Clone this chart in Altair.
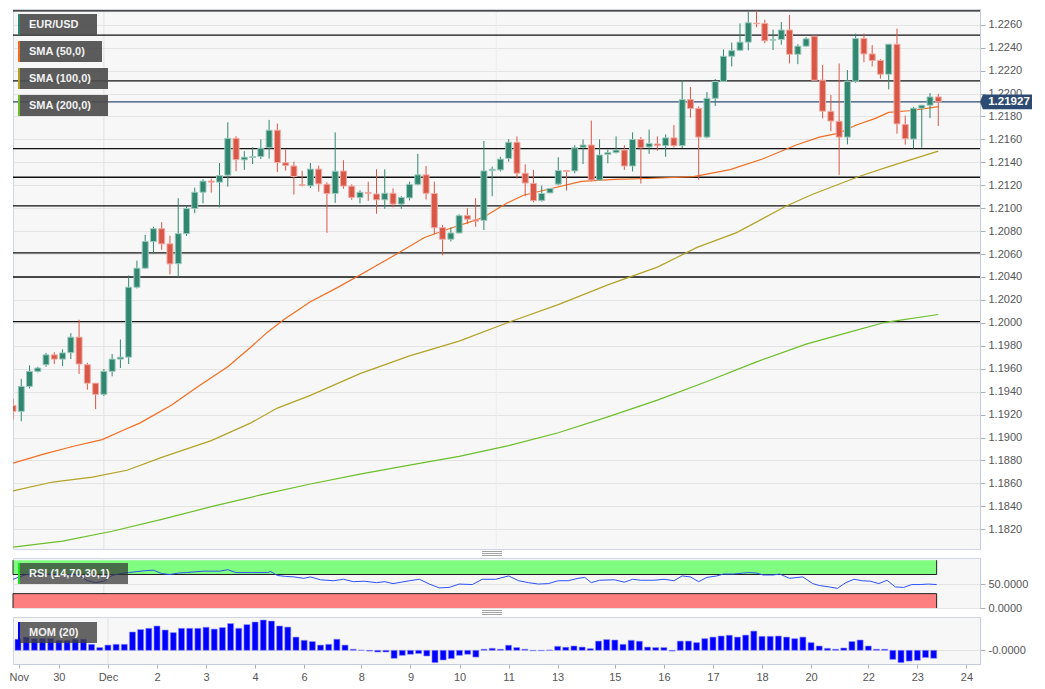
import altair as alt
import pandas as pd

# ---------------- data ----------------
o = [1.19280, 1.19228, 1.19446, 1.19577, 1.19635, 1.19721, 1.19684, 1.19740, 1.19875, 1.19635,
     1.19474, 1.19377, 1.19577, 1.19684, 1.19701, 1.20311, 1.20477, 1.20709, 1.20821, 1.20689,
     1.20516, 1.20778, 1.20997, 1.21139, 1.21236, 1.21227, 1.21288, 1.21609, 1.21422, 1.21442,
     1.21450, 1.21528, 1.21680, 1.21396, 1.21368, 1.21205, 1.21195, 1.21341, 1.21209, 1.21128,
     1.21324, 1.21192, 1.21092, 1.21136, 1.21124, 1.21073, 1.21130, 1.21036, 1.21090, 1.21208,
     1.21291, 1.21128, 1.20830, 1.20729, 1.20784, 1.20935, 1.20898, 1.20894, 1.21328, 1.21334,
     1.21434, 1.21575, 1.21305, 1.21216, 1.21068, 1.21133, 1.21210, 1.21328, 1.21325, 1.21531,
     1.21551, 1.21245, 1.21468, 1.21485, 1.21507, 1.21368, 1.21599, 1.21534, 1.21560, 1.21545,
     1.21613, 1.21545, 1.21947, 1.21870, 1.21620, 1.21958, 1.22104, 1.22325, 1.22377, 1.22448,
     1.22614, 1.22611, 1.22465, 1.22471, 1.22554, 1.22342, 1.22413, 1.22499, 1.22116, 1.21844,
     1.21758, 1.21620, 1.22107, 1.22480, 1.22345, 1.22288, 1.22168, 1.22430, 1.21729, 1.21603,
     1.21872, 1.21898, 1.21970]
h = [1.19336, 1.19512, 1.19629, 1.19617, 1.19738, 1.19744, 1.19769, 1.19910, 1.20027, 1.19652,
     1.19474, 1.19598, 1.19729, 1.19855, 1.20414, 1.20543, 1.20766, 1.20838, 1.20878, 1.20760,
     1.21087, 1.21024, 1.21179, 1.21251, 1.21257, 1.21394, 1.21749, 1.21627, 1.21497, 1.21531,
     1.21600, 1.21770, 1.21738, 1.21511, 1.21405, 1.21326, 1.21394, 1.21371, 1.21226, 1.21661,
     1.21418, 1.21208, 1.21156, 1.21231, 1.21339, 1.21339, 1.21173, 1.21105, 1.21231, 1.21474,
     1.21368, 1.21231, 1.20853, 1.20832, 1.20947, 1.20999, 1.21087, 1.21586, 1.21362, 1.21448,
     1.21603, 1.21626, 1.21382, 1.21334, 1.21197, 1.21176, 1.21444, 1.21334, 1.21549, 1.21599,
     1.21764, 1.21600, 1.21511, 1.21626, 1.21549, 1.21661, 1.21620, 1.21685, 1.21626, 1.21643,
     1.21725, 1.22116, 1.22057, 1.21888, 1.22013, 1.22127, 1.22385, 1.22445, 1.22611, 1.22714,
     1.22714, 1.22643, 1.22557, 1.22623, 1.22685, 1.22430, 1.22491, 1.22499, 1.22250, 1.21987,
     1.22262, 1.22205, 1.22523, 1.22523, 1.22422, 1.22299, 1.22430, 1.22566, 1.21807, 1.21884,
     1.21898, 1.22004, 1.21998]
l = [1.19156, 1.19142, 1.19428, 1.19568, 1.19617, 1.19641, 1.19623, 1.19684, 1.19555, 1.19417,
     1.19248, 1.19362, 1.19534, 1.19606, 1.19641, 1.20300, 1.20470, 1.20600, 1.20637, 1.20423,
     1.20397, 1.20758, 1.20956, 1.21042, 1.21136, 1.21007, 1.21188, 1.21323, 1.21334, 1.21385,
     1.21428, 1.21433, 1.21315, 1.21328, 1.21119, 1.21190, 1.21176, 1.21143, 1.20785, 1.21047,
     1.21169, 1.21073, 1.21042, 1.21064, 1.20952, 1.20995, 1.21007, 1.20995, 1.21068, 1.21200,
     1.21076, 1.20772, 1.20589, 1.20709, 1.20780, 1.20861, 1.20838, 1.20810, 1.21105, 1.21320,
     1.21405, 1.21259, 1.21105, 1.21053, 1.21057, 1.21133, 1.21200, 1.21154, 1.21305, 1.21385,
     1.21234, 1.21240, 1.21391, 1.21477, 1.21334, 1.21320, 1.21214, 1.21474, 1.21500, 1.21448,
     1.21530, 1.21525, 1.21790, 1.21248, 1.21610, 1.21892, 1.22100, 1.22236, 1.22370, 1.22377,
     1.22577, 1.22439, 1.22379, 1.22425, 1.22262, 1.22256, 1.22410, 1.22116, 1.21783, 1.21672,
     1.21291, 1.21557, 1.22093, 1.22273, 1.22236, 1.22130, 1.22036, 1.21649, 1.21554, 1.21520,
     1.21528, 1.21786, 1.21717]
c = [1.19228, 1.19446, 1.19577, 1.19606, 1.19721, 1.19684, 1.19738, 1.19875, 1.19641, 1.19474,
     1.19377, 1.19577, 1.19684, 1.19701, 1.20311, 1.20477, 1.20709, 1.20821, 1.20689, 1.20514,
     1.20778, 1.20997, 1.21139, 1.21236, 1.21227, 1.21285, 1.21609, 1.21424, 1.21445, 1.21450,
     1.21523, 1.21680, 1.21398, 1.21373, 1.21276, 1.21199, 1.21341, 1.21212, 1.21128, 1.21322,
     1.21193, 1.21094, 1.21139, 1.21130, 1.21073, 1.21130, 1.21036, 1.21093, 1.21208, 1.21291,
     1.21130, 1.20830, 1.20729, 1.20784, 1.20935, 1.20904, 1.20887, 1.21325, 1.21339, 1.21428,
     1.21575, 1.21305, 1.21219, 1.21066, 1.21128, 1.21172, 1.21328, 1.21320, 1.21527, 1.21551,
     1.21245, 1.21464, 1.21484, 1.21507, 1.21368, 1.21599, 1.21528, 1.21564, 1.21545, 1.21613,
     1.21545, 1.21947, 1.21870, 1.21620, 1.21958, 1.22104, 1.22325, 1.22374, 1.22448, 1.22617,
     1.22609, 1.22460, 1.22471, 1.22554, 1.22342, 1.22413, 1.22477, 1.22116, 1.21846, 1.21760,
     1.21620, 1.22107, 1.22480, 1.22345, 1.22288, 1.22168, 1.22430, 1.21735, 1.21606, 1.21872,
     1.21898, 1.21970, 1.21927]

sma50_i = [0, 3.6, 7.2, 10.8, 13.2, 15.4, 19.2, 22.4, 26, 28.8, 30.8, 32.8, 36, 39.2, 42, 46.8,
           49.8, 52.8, 56.8, 59.8, 61.8, 64.8, 68.8, 72.8, 76.8, 82.4, 86.8, 90.8, 94.8, 97.6,
           100, 102, 104.4, 106, 108.8, 112]
sma50_v = [1.18776, 1.18853, 1.18922, 1.18982, 1.19059, 1.19128, 1.19283, 1.19446, 1.19617,
           1.19790, 1.19919, 1.20030, 1.20185, 1.20305, 1.20417, 1.20615, 1.20744, 1.20821,
           1.20915, 1.21045, 1.21113, 1.21165, 1.21234, 1.21251, 1.21259, 1.21276, 1.21337,
           1.21431, 1.21551, 1.21620, 1.21655, 1.21723, 1.21783, 1.21835, 1.21852, 1.21886]
sma100_i = [0, 4.8, 9.6, 13.8, 18, 24, 28.8, 32, 36, 42, 48, 54, 60, 66, 72, 78, 82.8, 87.6,
            93.6, 96.8, 102.4, 106, 112]
sma100_v = [1.18535, 1.18612, 1.18655, 1.18715, 1.18827, 1.18973, 1.19128, 1.19257, 1.19368,
            1.19557, 1.19712, 1.19841, 1.20005, 1.20159, 1.20331, 1.20486, 1.20658, 1.20787,
            1.21019, 1.21122, 1.21276, 1.21362, 1.21497]
sma200_i = [0, 6, 12, 18, 24, 30, 36, 42, 48, 54, 60, 66, 72, 78, 84, 90, 96, 100.8, 105.6, 112]
sma200_v = [1.18045, 1.18097, 1.18183, 1.18286, 1.18397, 1.18500, 1.18595, 1.18681, 1.18759,
            1.18836, 1.18930, 1.19042, 1.19180, 1.19326, 1.19489, 1.19660, 1.19815, 1.19910,
            1.20005, 1.20073]

rsi_i = [0, 1.6, 3, 5, 7, 8, 9, 10, 11, 12, 13, 14, 16, 17, 18, 19, 20, 21, 23, 25, 26, 27, 29,
         30.8, 31.2, 32, 33, 34, 35.2, 36, 37.2, 38.8, 40, 41.2, 42.5, 44, 45, 46, 47, 48, 49.2,
         50.4, 51.6, 52.8, 54, 55.6, 56.8, 58.4, 60, 61.2, 62.4, 63.6, 64.8, 66, 67.2, 68.4, 69.2,
         70, 71, 72.8, 74, 75, 76, 77.6, 78.8, 80, 81, 82, 83, 84, 85.2, 86, 87.2, 88.4, 89, 90,
         90.8, 92, 92.8, 94, 95.6, 96.8, 97.6, 98.8, 99.8, 100.8, 101.8, 102.8, 103.8, 104.8,
         105.8, 106.8, 107.8, 108.8, 109.8, 110.8, 111.8]
rsi_v = [60, 70, 72, 70, 70, 69, 57, 53, 56, 68, 72, 74, 78, 79, 72, 70, 73, 74, 77, 77, 80, 74,
         74, 74, 76, 68, 66, 65, 62, 65, 59, 57, 60, 55, 56, 53, 55, 51, 54, 57, 60,
         50, 42, 43, 50, 49, 60, 60, 67, 57, 53, 50, 51, 57, 57, 62, 64,
         53, 58, 59, 54, 60, 58, 58, 60, 57, 67, 65, 55, 64, 67, 71, 71, 73, 74, 73,
         69, 69, 71, 62, 65, 51, 47, 44, 41, 53, 60, 57, 56, 51,
         58, 44, 43, 49, 49, 50, 49]

mom = [0.0072, 0.0086, 0.0076, 0.0076, 0.0076, 0.0065, 0.0065, 0.0072, 0.0072, 0.0039,
       0.0018, 0.0034, 0.0039, 0.0039, 0.0119, 0.0135, 0.0143, 0.0158, 0.0132, 0.0115,
       0.0143, 0.0143, 0.0143, 0.0150, 0.0138, 0.0148, 0.0174, 0.0143, 0.0167, 0.0184,
       0.0197, 0.0190, 0.0158, 0.0151, 0.0086, 0.0065, 0.0057, 0.0034, 0.0039, 0.0072,
       0.0034, 0.0007, 0.0001, -0.0005, -0.0011, -0.0011, -0.0052, -0.0033, -0.0026, -0.0021,
       -0.0037, -0.0080, -0.0063, -0.0054, -0.0033, -0.0026, -0.0044, 0.0007, 0.0013, 0.0007,
       0.0033, 0.0018, 0.0007, -0.0003, -0.0003, 0.0002, 0.0026, 0.0020, 0.0028, 0.0021,
       0.0011, 0.0060, 0.0070, 0.0067, 0.0039, 0.0065, 0.0059, 0.0021, 0.0018, 0.0018,
       -0.0005, 0.0060, 0.0060, 0.0050, 0.0076, 0.0086, 0.0093, 0.0098, 0.0086, 0.0099,
       0.0125, 0.0091, 0.0091, 0.0093, 0.0086, 0.0076, 0.0086, 0.0050, 0.0028, 0.0013,
       0.0007, 0.0015, 0.0057, 0.0067, 0.0028, 0.0007, 0.0007, -0.0059, -0.0080, -0.0070,
       -0.0065, -0.0047, -0.0052]

xtick_pos = [0.1, 5, 11, 17, 23, 29, 35, 42, 48, 54, 60, 66, 73, 79, 85, 91, 97, 104, 110, 116]
xtick_lab = ["Nov", "30", "Dec", "2", "3", "4", "6", "8", "9", "10", "11", "13", "15", "16",
             "17", "18", "20", "22", "23", "24"]
price_ticks = [1.182, 1.184, 1.186, 1.188, 1.190, 1.192, 1.194, 1.196, 1.198, 1.200, 1.202,
               1.204, 1.206, 1.208, 1.210, 1.212, 1.214, 1.216, 1.218, 1.220, 1.222, 1.224, 1.226]
levels = [1.2272, 1.2251, 1.2211, 1.2152, 1.2127, 1.2102, 1.2061, 1.2040, 1.2001]
last_price = 1.21927
month_start = [11]
aux_vline = [58.5]

# ---------------- style ----------------
FONT = "Liberation Sans"
GREEN = "#31866f"
RED = "#d85747"
GREEN_EDGE = "#9ccabd"
RED_EDGE = "#f0aaa2"
C50 = "#f26d21"
C100 = "#b3a227"
C200 = "#6cbf2a"
PW = 967
MAIN_H = 540
RSI_H = 50
MOM_H = 47
X_DOMAIN = [0, 117.05]
Y_DOMAIN = [1.18028, 1.22737]

xs = alt.Scale(domain=X_DOMAIN, nice=False, zero=False)
ys = alt.Scale(domain=Y_DOMAIN, nice=False, zero=False)
rs = alt.Scale(domain=[0, 104.5], nice=False, zero=False)
ms = alt.Scale(domain=[-0.0089, 0.02165], nice=False, zero=False)

YAX = alt.Axis(orient="right", values=price_ticks, format=".4f", title=None, grid=True,
               tickSize=5, labelPadding=3)
RAX = alt.Axis(orient="right", values=[0, 50], format=".4f", title=None, grid=True,
               tickSize=5, labelPadding=3)
MAX = alt.Axis(orient="right", values=[0], labelExpr="'-0.0000'", title=None, grid=True,
               tickSize=5, labelPadding=3)
lab_js = "[" + ",".join("'%s'" % t for t in xtick_lab) + "]"
pos_js = "[" + ",".join(str(p) for p in xtick_pos) + "]"
XAX = alt.Axis(orient="bottom", values=xtick_pos, title=None, grid=False, tickSize=4,
               labelPadding=3, labelFlush=2, labelOverlap=False,
               labelExpr=lab_js + "[indexof(" + pos_js + ", datum.value)]")


def X(field, axis=None):
    return alt.X(field, type="quantitative", scale=xs, axis=axis)


def label_box(text, stripe, y0, x1, fill="#4d4d4d", opacity=0.92, hgt=21):
    d = alt.Chart(pd.DataFrame({"label": [text]}))
    return [
        d.mark_rect(fill=fill, opacity=opacity).encode(
            x=alt.value(5), x2=alt.value(x1), y=alt.value(y0), y2=alt.value(y0 + hgt)),
        d.mark_rect(fill=stripe).encode(
            x=alt.value(5), x2=alt.value(7), y=alt.value(y0), y2=alt.value(y0 + hgt)),
        d.mark_text(align="left", baseline="middle", font=FONT, fontSize=11,
                    fontWeight="bold", color="#f2f2f2").encode(
            x=alt.value(16), y=alt.value(y0 + hgt / 2 + 0.5), text="label:N"),
    ]


def handle():
    d = alt.Chart(pd.DataFrame({"k": [0]}))
    return [d.mark_rule(color="#8a8a8a", strokeWidth=0.8).encode(
        x=alt.value(469), x2=alt.value(489), y=alt.value(yy)) for yy in (-6.5, -4.5, -2.5)]


# ---------------- main price panel ----------------
candles = pd.DataFrame({"i": list(range(len(o))), "o": o, "h": h, "l": l, "c": c})
up = "datum.c >= datum.o"

grid_v = alt.Chart(pd.DataFrame({"i": month_start})).mark_rule(
    color="#e2e2e2", strokeWidth=1).encode(x=X("i"))
aux_v = alt.Chart(pd.DataFrame({"i": aux_vline})).mark_rule(
    color="#ececec", strokeWidth=1).encode(x=X("i"))

lv = alt.Chart(pd.DataFrame({"p": levels})).mark_rule(color="#111111", strokeWidth=1.3).encode(
    y=alt.Y("p:Q", scale=ys, axis=YAX))
cur = alt.Chart(pd.DataFrame({"p": [last_price]})).mark_rule(
    color="#2d4a73", strokeWidth=1.2).encode(y=alt.Y("p:Q", scale=ys, axis=YAX))


def sma_layer(ii, vv, color):
    return alt.Chart(pd.DataFrame({"i": ii, "v": vv})).mark_line(
        color=color, strokeWidth=1.2, clip=True).encode(
        x=X("i"), y=alt.Y("v:Q", scale=ys, axis=YAX))


wick = alt.Chart(candles).mark_rule(strokeWidth=1, clip=True).encode(
    x=X("i"), y=alt.Y("l:Q", scale=ys, axis=YAX), y2="h:Q",
    color=alt.condition(up, alt.value(GREEN), alt.value(RED)))
body = alt.Chart(candles).transform_calculate(
    x0="datum.i - 0.36", x1="datum.i + 0.36").mark_rect(strokeWidth=1, clip=True).encode(
    x=X("x0"), x2="x1:Q", y=alt.Y("o:Q", scale=ys, axis=YAX), y2="c:Q",
    color=alt.condition(up, alt.value(GREEN), alt.value(RED)),
    stroke=alt.condition(up, alt.value(GREEN_EDGE), alt.value(RED_EDGE)))

tag_df = alt.Chart(pd.DataFrame({"p": [last_price]}))
tag = tag_df.mark_point(
    shape="M-1,0L-0.89,-0.28L1,-0.28L1,0.28L-0.89,0.28Z", size=2704, filled=True,
    color="#2d4a73", opacity=1, clip=False).encode(
    x=alt.value(993), y=alt.Y("p:Q", scale=ys, axis=YAX))
tag_txt = tag_df.mark_text(font=FONT, fontSize=11.5, fontWeight="bold", color="white",
                           align="center", baseline="middle", clip=False).encode(
    x=alt.value(996), y=alt.Y("p:Q", scale=ys, axis=YAX), text=alt.Text("p:Q", format=".5f"))

main_layers = [grid_v, aux_v, lv, sma_layer(sma200_i, sma200_v, C200),
               sma_layer(sma100_i, sma100_v, C100), sma_layer(sma50_i, sma50_v, C50),
               cur, wick, body, tag, tag_txt]
main_layers += label_box("EUR/USD", GREEN, 5, 84)
main_layers += label_box("SMA (50,0)", C50, 32, 89)
main_layers += label_box("SMA (100,0)", C100, 59, 95)
main_layers += label_box("SMA (200,0)", C200, 86, 95)
main = alt.layer(*main_layers).properties(width=PW, height=MAIN_H)

# ---------------- RSI panel ----------------
band_end = rsi_i[-1]
bands = pd.DataFrame({"x0": [X_DOMAIN[0]] * 2, "x1": [band_end] * 2,
                      "y0": [70, 0], "y1": [100, 30], "edge": [70, 30]})
b = alt.Chart(bands)
ob = b.transform_filter("datum.edge == 70").mark_rect(fill="#80fd80").encode(
    x=X("x0"), x2="x1:Q", y=alt.Y("y0:Q", scale=rs, axis=RAX), y2="y1:Q")
osd = b.transform_filter("datum.edge == 30").mark_rect(fill="#fd7f7f").encode(
    x=X("x0"), x2="x1:Q", y=alt.Y("y0:Q", scale=rs, axis=RAX), y2="y1:Q")
edge_h = b.mark_rule(color="#222222", strokeWidth=1).encode(
    x=X("x0"), x2="x1:Q", y=alt.Y("edge:Q", scale=rs, axis=RAX))
edge_v = b.mark_rule(color="#222222", strokeWidth=1).encode(
    x=X("x1"), y=alt.Y("y0:Q", scale=rs, axis=RAX), y2="y1:Q")
edge_l = b.mark_rule(color="#222222", strokeWidth=1).encode(
    x=X("x0"), y=alt.Y("y0:Q", scale=rs, axis=RAX), y2="y1:Q")
rsi_line = alt.Chart(pd.DataFrame({"i": rsi_i, "v": rsi_v})).mark_line(
    color="#2f52f5", strokeWidth=1, clip=True).encode(
    x=X("i"), y=alt.Y("v:Q", scale=rs, axis=RAX))
rsi_grid_v = alt.Chart(pd.DataFrame({"i": month_start})).mark_rule(
    color="#e2e2e2").encode(x=X("i"))
rsi_layers = [rsi_grid_v, ob, osd, edge_h, edge_v, edge_l, rsi_line]
rsi_layers += label_box("RSI (14,70,30,1)", "#19e619", 5, 115, fill="#333333", opacity=0.72)
rsi_layers += handle()
rsi = alt.layer(*rsi_layers).properties(width=PW, height=RSI_H)

# ---------------- MOM panel ----------------
mom_df = pd.DataFrame({"i": list(range(len(mom))), "m": mom})
mom_grid_v = alt.Chart(pd.DataFrame({"i": month_start})).mark_rule(
    color="#e2e2e2").encode(x=X("i", XAX))
mom_bars = alt.Chart(mom_df).mark_bar(size=6, color="#0000ff", stroke="#8f8fff",
                                      strokeWidth=0.6, clip=True).encode(
    x=X("i", XAX), y=alt.Y("m:Q", scale=ms, axis=MAX, stack=None), y2=alt.datum(0))
mom_layers = [mom_grid_v, mom_bars]
mom_layers += label_box("MOM (20)", "#0000ff", 5, 84, fill="#404040", opacity=0.8)
mom_layers += handle()
mom_panel = alt.layer(*mom_layers).properties(width=PW, height=MOM_H)

chart = alt.vconcat(main, rsi, mom_panel, spacing=9, bounds="flush").properties(
    padding=0, background="white"
).configure_view(
    fill="#f7f7f7", stroke="#cfd6e3", strokeWidth=1
).configure_axis(
    labelFont=FONT, labelFontSize=11, labelColor="#555555", domainColor="#c3cbdc",
    tickColor="#a9afbb", gridColor="#e4e4e4", gridWidth=1
).configure_text(font=FONT)

chart.save("out.html", embed_options={"renderer": "svg", "actions": False})
